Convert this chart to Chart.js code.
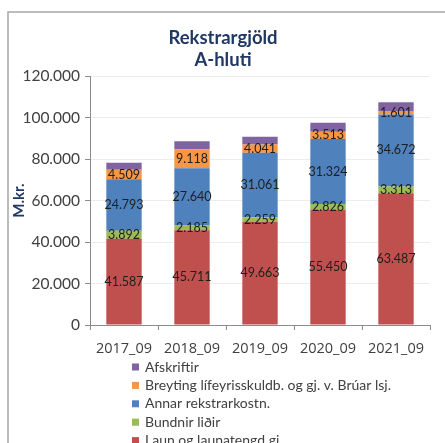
<!DOCTYPE html>
<html>
<head>
<meta charset="utf-8">
<script src="https://cdn.jsdelivr.net/npm/chart.js@4.4.1/dist/chart.umd.min.js"></script>
<style>
  html, body { margin: 0; padding: 0; background: #fff; }
</style>
</head>
<body>
<canvas id="myChart" width="445" height="443"></canvas>
<script>
var years = ['2017_09', '2018_09', '2019_09', '2020_09', '2021_09'];
var laun = [41587, 45711, 49663, 55450, 63487];
var bundnir = [3892, 2185, 2259, 2826, 3313];
var annar = [24793, 27640, 31061, 31324, 34672];
var breyting = [4509, 9118, 4041, 3513, 1601];
var afskriftir = [3400, 3900, 3700, 4300, 4300];

var navy = '#203864';
var font = 'Lato, "Open Sans", sans-serif';

function fmt(v) {
  return String(v).replace(/\B(?=(\d{3})+(?!\d))/g, '.');
}

// gray frame around the whole chart
var framePlugin = {
  id: 'frame',
  beforeDraw: function (chart) {
    var c = chart.ctx;
    c.save();
    c.fillStyle = '#fff';
    c.fillRect(0, 0, chart.width, chart.height);
    c.strokeStyle = '#a6a6a6';
    c.lineWidth = 1.5;
    c.strokeRect(8, 12, chart.width, chart.height);
    c.restore();
  }
};

// two line title on top
var titlePlugin = {
  id: 'twoLineTitle',
  afterDraw: function (chart) {
    var c = chart.ctx;
    c.save();
    c.fillStyle = navy;
    c.font = 'bold 18.5px ' + font;
    c.textAlign = 'center';
    c.textBaseline = 'middle';
    c.fillText('Rekstrargjöld', 223, 38);
    c.fillText('A-hluti', 223, 60);
    c.restore();
  }
};

// values written inside the segments (not on Afskriftir)
var valuePlugin = {
  id: 'values',
  afterDatasetsDraw: function (chart) {
    var c = chart.ctx;
    c.save();
    c.font = '12.5px ' + font;
    c.fillStyle = '#1e1e1e';
    c.textAlign = 'center';
    c.textBaseline = 'middle';
    chart.data.datasets.forEach(function (ds, i) {
      if (ds.noLabel) return;
      chart.getDatasetMeta(i).data.forEach(function (bar, j) {
        c.fillText(fmt(ds.data[j]), bar.x, (bar.y + bar.base) / 2);
      });
    });
    c.restore();
  }
};

// legend listed one item per row, top dataset first
var listLegend = {
  id: 'listLegend',
  afterDraw: function (chart) {
    var c = chart.ctx;
    var rows = chart.data.datasets.slice().reverse();
    c.save();
    c.font = '14px ' + font;
    c.textBaseline = 'middle';
    rows.forEach(function (ds, k) {
      var y = 367 + k * 18.4;
      c.fillStyle = ds.backgroundColor;
      c.fillRect(132, y - 3.5, 7, 7);
      c.fillStyle = '#404040';
      c.fillText(ds.label, 145, y);
    });
    c.restore();
  }
};

var ctx = document.getElementById('myChart');
var myChart = new Chart(ctx, {
  type: 'bar',
  data: {
    labels: years,
    datasets: [
      { label: 'Laun og launatengd gj.', data: laun, backgroundColor: '#c0504d' },
      { label: 'Bundnir liðir', data: bundnir, backgroundColor: '#9bbb59' },
      { label: 'Annar rekstrarkostn.', data: annar, backgroundColor: '#4f81bd' },
      { label: 'Breyting lífeyrisskuldb. og gj. v. Brúar lsj.', data: breyting, backgroundColor: '#f79646' },
      { label: 'Afskriftir', data: afskriftir, backgroundColor: '#8064a2', noLabel: true }
    ]
  },
  options: {
    responsive: false,
    animation: false,
    devicePixelRatio: 1,
    barPercentage: 0.52,
    categoryPercentage: 1,
    layout: { padding: { top: 76, right: 15, bottom: 88, left: 0 } },
    plugins: {
      legend: { display: false },
      tooltip: { enabled: false }
    },
    scales: {
      x: {
        stacked: true,
        grid: { display: true, drawOnChartArea: false, offset: true, tickLength: 5, color: '#8c8c8c' },
        border: { color: '#8c8c8c' },
        ticks: {
          padding: 10,
          maxRotation: 0,
          minRotation: 0,
          autoSkip: false,
          color: '#404040',
          font: { family: '"Open Sans", sans-serif', size: 14.5 }
        },
        afterFit: function (s) { s.height = 30; }
      },
      y: {
        stacked: true,
        min: 0,
        max: 120000,
        grid: { color: '#ececec', tickLength: 5, tickColor: '#8c8c8c' },
        border: { color: '#8c8c8c' },
        ticks: {
          stepSize: 20000,
          padding: 5,
          color: '#404040',
          font: { family: font, size: 15.5 },
          callback: function (v) { return fmt(v); }
        },
        title: {
          display: true,
          text: 'M.kr.',
          color: navy,
          font: { family: font, size: 15, weight: 'bold' },
          padding: { top: 10, bottom: 0 }
        },
        afterFit: function (s) { s.width = 90; }
      }
    }
  },
  plugins: [framePlugin, valuePlugin, titlePlugin, listLegend]
});
</script>
</body>
</html>
